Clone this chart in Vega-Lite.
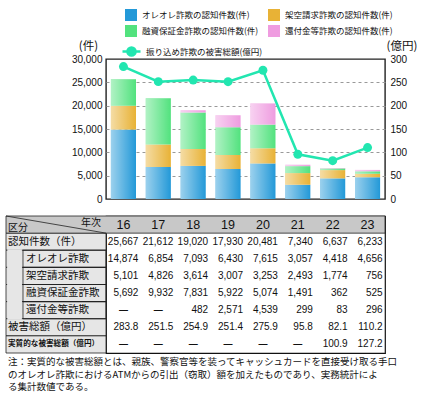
{
  "$schema": "https://vega.github.io/schema/vega-lite/v6.json",
  "padding": {"left": 5, "top": 9, "right": 5, "bottom": 4},
  "spacing": 10,
  "config": {
    "view": {"stroke": "#222", "strokeWidth": 1.4},
    "axis": {"labelFont": "Liberation Sans, Arial, sans-serif", "labelFontSize": 10, "labelColor": "#111", "titleFont": "Noto Sans CJK JP", "titleFontSize": 11.5, "titleFontWeight": "normal", "titleColor": "#111", "ticks": false, "domain": false},
    "legend": {"labelFont": "Noto Sans CJK JP", "labelFontSize": 8.5, "labelColor": "#111", "padding": 0}
  },
  "title": {"text": ["注：実質的な被害総額とは、親族、警察官等を装ってキャッシュカードを直接受け取る手口", "　　のオレオレ詐欺におけるATMからの引出（窃取）額を加えたものであり、実務統計によ", "　　る集計数値である。"], "orient": "bottom", "anchor": "start", "frame": "bounds", "font": "Noto Sans CJK JP", "fontSize": 9.5, "fontWeight": "normal", "lineHeight": 12.5, "offset": 3, "dx": 3, "color": "#111"},
  "datasets": {
    "t": [
      {"row": "年次", "year": 16}, {"row": "年次", "year": 17}, {"row": "年次", "year": 18}, {"row": "年次", "year": 19}, {"row": "年次", "year": 20}, {"row": "年次", "year": 21}, {"row": "年次", "year": 22}, {"row": "年次", "year": 23},
      {"row": "認知件数（件）", "year": 16, "v": 25667}, {"row": "認知件数（件）", "year": 17, "v": 21612}, {"row": "認知件数（件）", "year": 18, "v": 19020}, {"row": "認知件数（件）", "year": 19, "v": 17930}, {"row": "認知件数（件）", "year": 20, "v": 20481}, {"row": "認知件数（件）", "year": 21, "v": 7340}, {"row": "認知件数（件）", "year": 22, "v": 6637}, {"row": "認知件数（件）", "year": 23, "v": 6233},
      {"row": "オレオレ詐欺", "year": 16, "v": 14874}, {"row": "オレオレ詐欺", "year": 17, "v": 6854}, {"row": "オレオレ詐欺", "year": 18, "v": 7093}, {"row": "オレオレ詐欺", "year": 19, "v": 6430}, {"row": "オレオレ詐欺", "year": 20, "v": 7615}, {"row": "オレオレ詐欺", "year": 21, "v": 3057}, {"row": "オレオレ詐欺", "year": 22, "v": 4418}, {"row": "オレオレ詐欺", "year": 23, "v": 4656},
      {"row": "架空請求詐欺", "year": 16, "v": 5101}, {"row": "架空請求詐欺", "year": 17, "v": 4826}, {"row": "架空請求詐欺", "year": 18, "v": 3614}, {"row": "架空請求詐欺", "year": 19, "v": 3007}, {"row": "架空請求詐欺", "year": 20, "v": 3253}, {"row": "架空請求詐欺", "year": 21, "v": 2493}, {"row": "架空請求詐欺", "year": 22, "v": 1774}, {"row": "架空請求詐欺", "year": 23, "v": 756},
      {"row": "融資保証金詐欺", "year": 16, "v": 5692}, {"row": "融資保証金詐欺", "year": 17, "v": 9932}, {"row": "融資保証金詐欺", "year": 18, "v": 7831}, {"row": "融資保証金詐欺", "year": 19, "v": 5922}, {"row": "融資保証金詐欺", "year": 20, "v": 5074}, {"row": "融資保証金詐欺", "year": 21, "v": 1491}, {"row": "融資保証金詐欺", "year": 22, "v": 362}, {"row": "融資保証金詐欺", "year": 23, "v": 525},
      {"row": "還付金等詐欺", "year": 16, "v": null}, {"row": "還付金等詐欺", "year": 17, "v": null}, {"row": "還付金等詐欺", "year": 18, "v": 482}, {"row": "還付金等詐欺", "year": 19, "v": 2571}, {"row": "還付金等詐欺", "year": 20, "v": 4539}, {"row": "還付金等詐欺", "year": 21, "v": 299}, {"row": "還付金等詐欺", "year": 22, "v": 83}, {"row": "還付金等詐欺", "year": 23, "v": 296},
      {"row": "被害総額（億円）", "year": 16, "v": 283.8}, {"row": "被害総額（億円）", "year": 17, "v": 251.5}, {"row": "被害総額（億円）", "year": 18, "v": 254.9}, {"row": "被害総額（億円）", "year": 19, "v": 251.4}, {"row": "被害総額（億円）", "year": 20, "v": 275.9}, {"row": "被害総額（億円）", "year": 21, "v": 95.8}, {"row": "被害総額（億円）", "year": 22, "v": 82.1}, {"row": "被害総額（億円）", "year": 23, "v": 110.2},
      {"row": "実質的な被害総額（億円）", "year": 16, "v": null}, {"row": "実質的な被害総額（億円）", "year": 17, "v": null}, {"row": "実質的な被害総額（億円）", "year": 18, "v": null}, {"row": "実質的な被害総額（億円）", "year": 19, "v": null}, {"row": "実質的な被害総額（億円）", "year": 20, "v": null}, {"row": "実質的な被害総額（億円）", "year": 21, "v": null}, {"row": "実質的な被害総額（億円）", "year": 22, "v": 100.9}, {"row": "実質的な被害総額（億円）", "year": 23, "v": 127.2}
    ]
  },
  "vconcat": [
    {
      "width": 279, "height": 140,
      "data": {"name": "t"},
      "layer": [
        {
          "transform": [{"filter": {"field": "row", "oneOf": ["オレオレ詐欺", "架空請求詐欺", "融資保証金詐欺", "還付金等詐欺"]}}, {"filter": "datum.v != null"}],
          "mark": {"type": "bar"},
          "encoding": {
            "x": {"field": "year", "type": "ordinal", "axis": null, "scale": {"paddingInner": 0.28, "paddingOuter": 0.14}},
            "y": {"field": "v", "type": "quantitative", "stack": "zero", "scale": {"domain": [0, 30000], "nice": false},
              "axis": {"orient": "left", "values": [0, 5000, 10000, 15000, 20000, 25000, 30000], "format": ",.0f", "labelPadding": 4, "grid": true, "gridColor": "#999", "gridDash": [3, 3], "gridWidth": 1, "gridOpacity": {"condition": {"test": "datum.value == 0 || datum.value == 30000", "value": 0}, "value": 1}, "title": "(件)", "titleAngle": 0, "titleAlign": "center", "titleBaseline": "bottom", "titleX": -18, "titleY": -8}},
            "fill": {"field": "row", "type": "nominal", "scale": {"domain": ["オレオレ詐欺", "架空請求詐欺", "融資保証金詐欺", "還付金等詐欺"], "range": ["#2399d8", "#e8b236", "#52e27e", "#ef9ce0"]},
              "legend": {"orient": "none", "legendX": 19, "legendY": -50, "columns": 2, "direction": "horizontal", "title": null, "symbolType": "square", "symbolSize": 144, "symbolStrokeWidth": 0, "labelOffset": 5, "rowPadding": 4, "columnPadding": 9, "labelExpr": "datum.label + 'の認知件数(件)'"}},
            "order": {"field": "row", "sort": "ascending"}
          }
        },
        {
          "transform": [{"filter": {"field": "row", "oneOf": ["オレオレ詐欺", "架空請求詐欺", "融資保証金詐欺", "還付金等詐欺"]}}, {"filter": "datum.v != null"}],
          "mark": {"type": "bar", "fill": {"gradient": "linear", "x1": 0, "x2": 1, "y1": 0, "y2": 0, "stops": [{"offset": 0, "color": "rgba(255,255,255,0.55)"}, {"offset": 1, "color": "rgba(255,255,255,0)"}]}},
          "encoding": {
            "x": {"field": "year", "type": "ordinal", "axis": null},
            "y": {"field": "v", "type": "quantitative", "stack": "zero", "scale": {"domain": [0, 30000], "nice": false}, "axis": null},
            "detail": {"field": "row"},
            "order": {"field": "row", "sort": "ascending"}
          }
        },
        {
          "transform": [{"filter": "datum.row == '被害総額（億円）'"}],
          "mark": {"type": "line", "strokeWidth": 2.5},
          "encoding": {
            "x": {"field": "year", "type": "ordinal", "axis": null},
            "y": {"field": "v", "type": "quantitative", "scale": {"domain": [0, 300], "nice": false},
              "axis": {"orient": "right", "values": [0, 50, 100, 150, 200, 250, 300], "labelPadding": 5, "grid": false, "title": "(億円)", "titleAngle": 0, "titleAlign": "left", "titleBaseline": "bottom", "titleX": 1, "titleY": -8}},
            "stroke": {"datum": "振り込め詐欺の被害総額(億円)", "type": "nominal", "scale": {"range": ["#22e6b0"]},
              "legend": {"orient": "none", "legendX": 15, "legendY": -18, "title": null, "symbolType": "M-1,0L1,0M0.45,0A0.45,0.45,0,1,1,-0.45,0A0.45,0.45,0,1,1,0.45,0", "symbolSize": 324, "symbolStrokeWidth": 2.5, "labelOffset": 4,
                "encode": {"symbols": {"update": {"fill": {"value": "#22e6b0"}}}}}}
          }
        },
        {
          "transform": [{"filter": "datum.row == '被害総額（億円）'"}],
          "mark": {"type": "point", "filled": true, "size": 80, "color": "#22e6b0", "opacity": 1},
          "encoding": {
            "x": {"field": "year", "type": "ordinal", "axis": null},
            "y": {"field": "v", "type": "quantitative", "scale": {"domain": [0, 300], "nice": false}, "axis": null}
          }
        }
      ],
      "resolve": {"scale": {"y": "independent"}}
    },
    {
      "width": 279, "height": 137,
      "view": {"stroke": "#111", "strokeWidth": 1.2},
      "data": {"name": "t"},
      "layer": [
        {
          "transform": [{"filter": "datum.year == 16 && datum.row != '年次'"}],
          "mark": {"type": "rect", "fill": "#e6e6e6", "stroke": "#222", "strokeWidth": 0.8},
          "encoding": {
            "x": {"datum": 12.633, "type": "quantitative", "scale": {"domain": [15.5, 23.5], "nice": false, "zero": false}, "axis": null},
            "x2": {"datum": 15.5},
            "y": {"field": "row", "type": "ordinal", "scale": {"type": "band", "domain": ["年次", "認知件数（件）", "オレオレ詐欺", "架空請求詐欺", "融資保証金詐欺", "還付金等詐欺", "被害総額（億円）", "実質的な被害総額（億円）"], "paddingInner": 0, "paddingOuter": 0},
              "axis": {"grid": true, "bandPosition": 0, "labels": false, "ticks": false, "domain": false, "title": null, "zindex": 1, "gridColor": "#222", "gridWidth": 0.8, "gridDash": []}}
          }
        },
        {
          "transform": [{"filter": "datum.year == 16 && datum.row == '年次'"}],
          "mark": {"type": "rect", "fill": "#c8c8c8", "stroke": "#222", "strokeWidth": 0.8},
          "encoding": {
            "x": {"datum": 12.633, "type": "quantitative", "scale": {"domain": [15.5, 23.5], "nice": false, "zero": false}, "axis": null},
            "x2": {"datum": 23.5},
            "y": {"field": "row", "type": "ordinal", "scale": {"type": "band", "domain": ["年次", "認知件数（件）", "オレオレ詐欺", "架空請求詐欺", "融資保証金詐欺", "還付金等詐欺", "被害総額（億円）", "実質的な被害総額（億円）"], "paddingInner": 0, "paddingOuter": 0}, "axis": null}
          }
        },
        {
          "transform": [{"filter": "datum.year == 16"}, {"filter": {"field": "row", "oneOf": ["オレオレ詐欺", "架空請求詐欺", "融資保証金詐欺", "還付金等詐欺"]}}],
          "mark": {"type": "rect", "fill": "#e6e6e6", "stroke": "#e6e6e6", "strokeWidth": 2},
          "encoding": {
            "x": {"datum": 12.70, "type": "quantitative", "scale": {"domain": [15.5, 23.5], "nice": false, "zero": false}, "axis": null},
            "x2": {"datum": 13.06},
            "y": {"field": "row", "type": "ordinal", "scale": {"type": "band", "domain": ["年次", "認知件数（件）", "オレオレ詐欺", "架空請求詐欺", "融資保証金詐欺", "還付金等詐欺", "被害総額（億円）", "実質的な被害総額（億円）"], "paddingInner": 0, "paddingOuter": 0}, "axis": null}
          }
        },
        {
          "transform": [{"filter": "datum.year == 16"}, {"filter": {"field": "row", "oneOf": ["オレオレ詐欺", "架空請求詐欺", "融資保証金詐欺", "還付金等詐欺"]}}],
          "mark": {"type": "rect", "fill": "transparent", "stroke": "#222", "strokeWidth": 0.8},
          "encoding": {
            "x": {"datum": 13.12, "type": "quantitative", "scale": {"domain": [15.5, 23.5], "nice": false, "zero": false}, "axis": null},
            "x2": {"datum": 15.5},
            "y": {"field": "row", "type": "ordinal", "scale": {"type": "band", "domain": ["年次", "認知件数（件）", "オレオレ詐欺", "架空請求詐欺", "融資保証金詐欺", "還付金等詐欺", "被害総額（億円）", "実質的な被害総額（億円）"], "paddingInner": 0, "paddingOuter": 0}, "axis": null}
          }
        },
        {
          "transform": [{"filter": "datum.year == 16 && datum.row == '年次'"}],
          "mark": {"type": "rule", "stroke": "#222", "strokeWidth": 0.8},
          "encoding": {
            "x": {"datum": 12.633, "type": "quantitative", "scale": {"domain": [15.5, 23.5], "nice": false, "zero": false}, "axis": null},
            "x2": {"datum": 15.5},
            "y": {"field": "row", "type": "ordinal", "bandPosition": 0, "scale": {"type": "band", "domain": ["年次", "認知件数（件）", "オレオレ詐欺", "架空請求詐欺", "融資保証金詐欺", "還付金等詐欺", "被害総額（億円）", "実質的な被害総額（億円）"], "paddingInner": 0, "paddingOuter": 0}, "axis": null},
            "y2": {"field": "row", "bandPosition": 1}
          }
        },
        {
          "transform": [{"filter": "datum.year == 16"}, {"filter": {"field": "row", "oneOf": ["認知件数（件）", "被害総額（億円）"]}}],
          "mark": {"type": "text", "align": "left", "baseline": "middle", "dx": 2, "font": "Noto Sans CJK JP", "fontSize": 10.5, "color": "#111"},
          "encoding": {
            "x": {"datum": 12.633, "type": "quantitative", "scale": {"domain": [15.5, 23.5], "nice": false, "zero": false}, "axis": null},
            "y": {"field": "row", "type": "ordinal", "scale": {"type": "band", "domain": ["年次", "認知件数（件）", "オレオレ詐欺", "架空請求詐欺", "融資保証金詐欺", "還付金等詐欺", "被害総額（億円）", "実質的な被害総額（億円）"], "paddingInner": 0, "paddingOuter": 0}, "axis": null},
            "text": {"field": "row"}
          }
        },
        {
          "transform": [{"filter": "datum.year == 16"}, {"filter": {"field": "row", "oneOf": ["オレオレ詐欺", "架空請求詐欺", "融資保証金詐欺", "還付金等詐欺"]}}],
          "mark": {"type": "text", "align": "left", "baseline": "middle", "dx": 3, "font": "Noto Sans CJK JP", "fontSize": 10.5, "color": "#111"},
          "encoding": {
            "x": {"datum": 13.12, "type": "quantitative", "scale": {"domain": [15.5, 23.5], "nice": false, "zero": false}, "axis": null},
            "y": {"field": "row", "type": "ordinal", "scale": {"type": "band", "domain": ["年次", "認知件数（件）", "オレオレ詐欺", "架空請求詐欺", "融資保証金詐欺", "還付金等詐欺", "被害総額（億円）", "実質的な被害総額（億円）"], "paddingInner": 0, "paddingOuter": 0}, "axis": null},
            "text": {"field": "row"}
          }
        },
        {
          "transform": [{"filter": "datum.year == 16 && datum.row == '実質的な被害総額（億円）'"}],
          "mark": {"type": "text", "align": "left", "baseline": "middle", "dx": 2, "font": "Noto Sans CJK JP", "fontSize": 7.6, "fontWeight": "bold", "color": "#111"},
          "encoding": {
            "x": {"datum": 12.633, "type": "quantitative", "scale": {"domain": [15.5, 23.5], "nice": false, "zero": false}, "axis": null},
            "y": {"field": "row", "type": "ordinal", "scale": {"type": "band", "domain": ["年次", "認知件数（件）", "オレオレ詐欺", "架空請求詐欺", "融資保証金詐欺", "還付金等詐欺", "被害総額（億円）", "実質的な被害総額（億円）"], "paddingInner": 0, "paddingOuter": 0}, "axis": null},
            "text": {"field": "row"}
          }
        },
        {
          "transform": [{"filter": "datum.year == 16 && datum.row == '年次'"}],
          "mark": {"type": "text", "text": "区分", "align": "left", "baseline": "middle", "dx": 2, "dy": 3, "font": "Noto Sans CJK JP", "fontSize": 10, "color": "#111"},
          "encoding": {
            "x": {"datum": 12.633, "type": "quantitative", "scale": {"domain": [15.5, 23.5], "nice": false, "zero": false}, "axis": null},
            "y": {"field": "row", "type": "ordinal", "scale": {"type": "band", "domain": ["年次", "認知件数（件）", "オレオレ詐欺", "架空請求詐欺", "融資保証金詐欺", "還付金等詐欺", "被害総額（億円）", "実質的な被害総額（億円）"], "paddingInner": 0, "paddingOuter": 0}, "axis": null}
          }
        },
        {
          "transform": [{"filter": "datum.year == 16 && datum.row == '年次'"}],
          "mark": {"type": "text", "text": "年次", "align": "right", "baseline": "middle", "dx": -5, "dy": -2, "font": "Noto Sans CJK JP", "fontSize": 10, "color": "#111"},
          "encoding": {
            "x": {"datum": 15.5, "type": "quantitative", "scale": {"domain": [15.5, 23.5], "nice": false, "zero": false}, "axis": null},
            "y": {"field": "row", "type": "ordinal", "scale": {"type": "band", "domain": ["年次", "認知件数（件）", "オレオレ詐欺", "架空請求詐欺", "融資保証金詐欺", "還付金等詐欺", "被害総額（億円）", "実質的な被害総額（億円）"], "paddingInner": 0, "paddingOuter": 0}, "axis": null}
          }
        },
        {
          "transform": [{"filter": "datum.row == '年次'"}],
          "mark": {"type": "text", "align": "center", "baseline": "middle", "font": "Liberation Sans, Arial, sans-serif", "fontSize": 12.5, "color": "#111"},
          "encoding": {
            "x": {"field": "year", "type": "quantitative", "scale": {"domain": [15.5, 23.5], "nice": false, "zero": false},
              "axis": {"values": [15.5, 16.5, 17.5, 18.5, 19.5, 20.5, 21.5, 22.5, 23.5], "grid": true, "labels": false, "ticks": false, "domain": false, "title": null, "zindex": 1, "gridColor": "#222", "gridWidth": 0.8, "gridDash": []}},
            "y": {"field": "row", "type": "ordinal", "scale": {"type": "band", "domain": ["年次", "認知件数（件）", "オレオレ詐欺", "架空請求詐欺", "融資保証金詐欺", "還付金等詐欺", "被害総額（億円）", "実質的な被害総額（億円）"], "paddingInner": 0, "paddingOuter": 0}, "axis": null},
            "text": {"field": "year"}
          }
        },
        {
          "transform": [{"filter": "datum.v != null"}, {"filter": {"field": "row", "oneOf": ["認知件数（件）", "オレオレ詐欺", "架空請求詐欺", "融資保証金詐欺", "還付金等詐欺"]}}],
          "mark": {"type": "text", "align": "right", "baseline": "middle", "dx": 15, "font": "Liberation Sans, Arial, sans-serif", "fontSize": 10, "color": "#111"},
          "encoding": {
            "x": {"field": "year", "type": "quantitative", "scale": {"domain": [15.5, 23.5], "nice": false, "zero": false}, "axis": null},
            "y": {"field": "row", "type": "ordinal", "scale": {"type": "band", "domain": ["年次", "認知件数（件）", "オレオレ詐欺", "架空請求詐欺", "融資保証金詐欺", "還付金等詐欺", "被害総額（億円）", "実質的な被害総額（億円）"], "paddingInner": 0, "paddingOuter": 0}, "axis": null},
            "text": {"field": "v", "type": "quantitative", "format": ","}
          }
        },
        {
          "transform": [{"filter": "datum.v != null"}, {"filter": {"field": "row", "oneOf": ["被害総額（億円）", "実質的な被害総額（億円）"]}}],
          "mark": {"type": "text", "align": "right", "baseline": "middle", "dx": 15, "font": "Liberation Sans, Arial, sans-serif", "fontSize": 10, "color": "#111"},
          "encoding": {
            "x": {"field": "year", "type": "quantitative", "scale": {"domain": [15.5, 23.5], "nice": false, "zero": false}, "axis": null},
            "y": {"field": "row", "type": "ordinal", "scale": {"type": "band", "domain": ["年次", "認知件数（件）", "オレオレ詐欺", "架空請求詐欺", "融資保証金詐欺", "還付金等詐欺", "被害総額（億円）", "実質的な被害総額（億円）"], "paddingInner": 0, "paddingOuter": 0}, "axis": null},
            "text": {"field": "v", "type": "quantitative", "format": ".1f"}
          }
        },
        {
          "transform": [{"filter": "datum.v == null && datum.row != '年次'"}],
          "mark": {"type": "text", "text": "—", "align": "center", "baseline": "middle", "font": "Liberation Sans, Arial, sans-serif", "fontSize": 9, "fontWeight": "bold", "color": "#111"},
          "encoding": {
            "x": {"field": "year", "type": "quantitative", "scale": {"domain": [15.5, 23.5], "nice": false, "zero": false}, "axis": null},
            "y": {"field": "row", "type": "ordinal", "scale": {"type": "band", "domain": ["年次", "認知件数（件）", "オレオレ詐欺", "架空請求詐欺", "融資保証金詐欺", "還付金等詐欺", "被害総額（億円）", "実質的な被害総額（億円）"], "paddingInner": 0, "paddingOuter": 0}, "axis": null}
          }
        }
      ]
    }
  ]
}
